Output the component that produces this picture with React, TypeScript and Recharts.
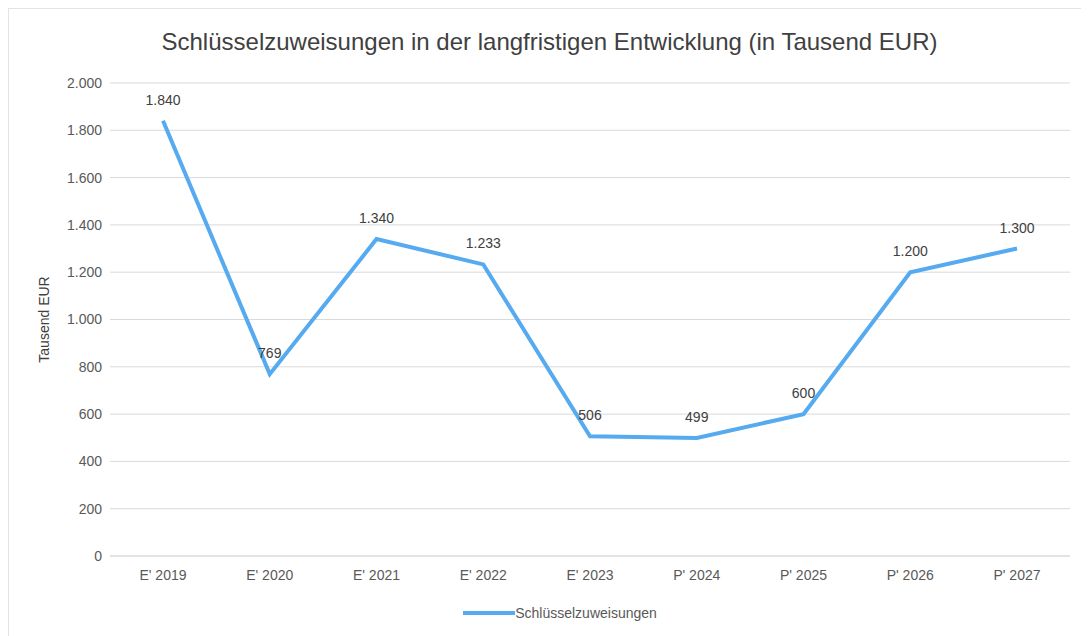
import React from "react";
import { LineChart, Line, XAxis, YAxis, CartesianGrid, Legend, LabelList } from "recharts";

const categories = ["E' 2019", "E' 2020", "E' 2021", "E' 2022", "E' 2023", "P' 2024", "P' 2025", "P' 2026", "P' 2027"];
const values = [1840, 769, 1340, 1233, 506, 499, 600, 1200, 1300];
const yTicks = [0, 200, 400, 600, 800, 1000, 1200, 1400, 1600, 1800, 2000];
const seriesName = "Schlüsselzuweisungen";
const title = "Schlüsselzuweisungen in der langfristigen Entwicklung (in Tausend EUR)";

const data = categories.map((c, i) => ({ name: c, value: values[i] }));

const fmt = (v: number) => {
  const s = Math.round(v).toString();
  return s.replace(/\B(?=(\d{3})+(?!\d))/g, ".");
};

const FONT = "'Liberation Sans', Arial, sans-serif";
const LINE_COLOR = "#55aaf0";

const LegendContent = () => (
  <div style={{ display: "flex", justifyContent: "center", alignItems: "center", height: 24, fontFamily: FONT }}>
    <svg width={52} height={10}>
      <line x1={0} y1={5} x2={52} y2={5} stroke={LINE_COLOR} strokeWidth={4} />
    </svg>
    <span style={{ fontSize: 14, color: "#595959" }}>{seriesName}</span>
  </div>
);

export default function App() {
  return (
    <div
      style={{
        position: "relative",
        width: 1081,
        height: 628,
        borderTop: "1px solid #e3e3e3",
        borderLeft: "1px solid #e3e3e3",
        boxSizing: "border-box",
        background: "#fff",
        fontFamily: FONT,
      }}
    >
      <div
        style={{
          position: "absolute",
          top: 19,
          left: 0,
          width: 1081,
          textAlign: "center",
          fontSize: 24,
          color: "#404040",
          fontFamily: FONT,
        }}
      >
        {title}
      </div>
      <LineChart width={1080} height={627} data={data} margin={{ top: 74, right: 19, bottom: 11, left: 41 }}>
        <CartesianGrid vertical={false} stroke="#d9d9d9" />
        <XAxis
          dataKey="name"
          axisLine={{ stroke: "#d9d9d9" }}
          tickLine={false}
          tick={{ fontSize: 14, fill: "#595959", fontFamily: FONT }}
          tickMargin={8}
          height={45}
          padding={{ left: 53, right: 53 }}
        />
        <YAxis
          domain={[0, 2000]}
          ticks={yTicks}
          tickFormatter={fmt}
          axisLine={false}
          tickLine={false}
          width={60}
          tick={{ fontSize: 14, fill: "#595959", fontFamily: FONT }}
          label={{
            value: "Tausend EUR",
            angle: -90,
            position: "insideLeft",
            offset: -6,
            style: { fontSize: 14, fill: "#404040", fontFamily: FONT, textAnchor: "middle" },
          }}
        />
        <Legend verticalAlign="bottom" content={<LegendContent />} />
        <Line
          type="linear"
          dataKey="value"
          name={seriesName}
          stroke={LINE_COLOR}
          strokeWidth={4}
          dot={false}
          activeDot={false}
          isAnimationActive={false}
        >
          <LabelList
            dataKey="value"
            position="top"
            offset={16}
            formatter={(v: any) => fmt(Number(v))}
            style={{ fontSize: 14, fill: "#404040", fontFamily: FONT }}
          />
        </Line>
      </LineChart>
    </div>
  );
}
